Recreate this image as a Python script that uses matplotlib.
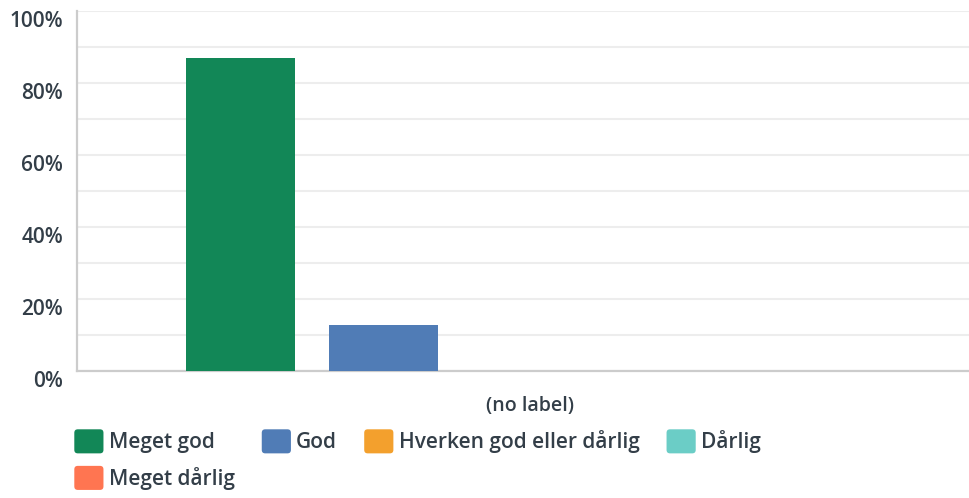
import matplotlib
matplotlib.use("Agg")
import matplotlib.pyplot as plt
import matplotlib.transforms as mtransforms
from matplotlib.patches import Patch, FancyBboxPatch
from matplotlib.legend_handler import HandlerPatch
import numpy as np

# answer options and share of responses (%)
options = ["Meget god", "God", "Hverken god eller dårlig", "Dårlig", "Meget dårlig"]
shares = [86.9, 12.7, 0, 0, 0]
colors = ["#128757", "#507CB6", "#F3A02D", "#6BCDC6", "#FF7551"]
yticks = [0, 20, 40, 60, 80, 100]
ytick_labels = ["0%", "20%", "40%", "60%", "80%", "100%"]
category = "(no label)"

txt = "#333e48"
plt.rcParams['font.family'] = ['Open Sans', 'DejaVu Sans']

fig = plt.figure(figsize=(9.70, 4.98), dpi=100)
ax = fig.add_axes([77 / 970, 1 - 370.7 / 498, 1 - 77 / 970, 360 / 498])

x = np.arange(len(options))
ax.bar(x, shares, width=0.762, color=colors, zorder=3)

ax.set_xlim(-1.143, 5.101)
ax.set_ylim(0, 100)
ax.set_yticks(yticks)
ax.set_yticklabels(ytick_labels, fontsize=15, fontweight='semibold', color=txt)
ax.set_yticks(np.arange(10, 100, 20), minor=True)
ax.set_xticks([])
ax.tick_params(axis='y', which='both', length=0, pad=10)
ax.grid(axis='y', which='both', color='#ededed', linewidth=1.5, zorder=0)

# labels sit a little below their grid lines in the original
shift = mtransforms.ScaledTranslation(0, -8 / 100, fig.dpi_scale_trans)
for lbl in ax.get_yticklabels():
    lbl.set_transform(lbl.get_transform() + shift)

for s in ['top', 'right']:
    ax.spines[s].set_visible(False)
for s in ['left', 'bottom']:
    ax.spines[s].set_color('#cccccc')
    ax.spines[s].set_linewidth(1.6)

ax.set_xlabel(category, fontsize=14, fontweight='semibold', color=txt)
ax.xaxis.set_label_coords((530 - 77) / 893, -0.098)
ax.xaxis.label.set_va('center')


def rounded_square(legend, orig_handle, xdescent, ydescent, width, height, fontsize):
    return FancyBboxPatch((-xdescent, -ydescent), width, height,
                          boxstyle="round,pad=0,rounding_size=2.5")


handles = [Patch(facecolor=c, edgecolor='none', label=o) for o, c in zip(options, colors)]
# legend fills column by column, so put the last item under the first
order = [0, 4, 1, 2, 3]
handles = [handles[i] for i in order]
leg = fig.legend(handles=handles, loc='upper left', bbox_to_anchor=(74.3 / 970, 1 - 429.3 / 498),
                 ncol=4, frameon=False, fontsize=15, borderpad=0, borderaxespad=0,
                 handlelength=1.4, handleheight=1.4, handletextpad=0.25,
                 labelspacing=0.6, columnspacing=1.3,
                 handler_map={Patch: HandlerPatch(patch_func=rounded_square)})
for t in leg.get_texts():
    t.set_color(txt)
    t.set_fontweight('semibold')

fig.savefig("out.png", dpi=100)
